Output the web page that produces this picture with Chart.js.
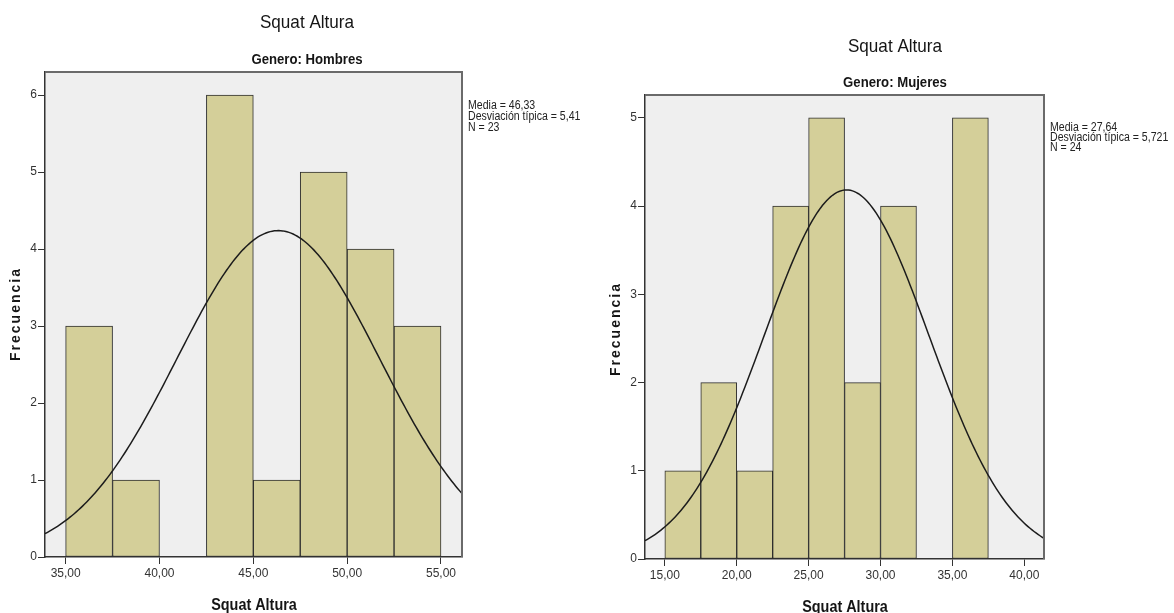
<!DOCTYPE html>
<html>
<head>
<meta charset="utf-8">
<script src="https://cdn.jsdelivr.net/npm/chart.js@4.4.1/dist/chart.umd.min.js"></script>
<style>
  html, body { margin: 0; padding: 0; background: #ffffff; width: 1174px; height: 613px; overflow: hidden; }
  canvas { position: absolute; left: 0; top: 0; }
</style>
</head>
<body>
<canvas id="hombres" width="1174" height="613"></canvas>
<canvas id="mujeres" width="1174" height="613"></canvas>
<script>
// ---- shared text ----
const chartTitle = 'Squat Altura';
const xAxisTitle = 'Squat Altura';
const yAxisTitle = 'Frecuencia';
const binWidth = 2.5;

// ---- Hombres ----
const hombresSubtitle = 'Genero: Hombres';
const hombresBinStarts = [35, 37.5, 40, 42.5, 45, 47.5, 50, 52.5];
const hombresCounts = [3, 1, 0, 6, 1, 5, 4, 3];
const hombresXTicks = [35, 40, 45, 50, 55];
const hombresYTicks = [0, 1, 2, 3, 4, 5, 6];
const hombresMean = 46.33;
const hombresSd = 5.41;
const hombresN = 23;
const hombresStatLines = ['Media = 46,33', 'Desviación típica = 5,41', 'N = 23'];

// ---- Mujeres ----
const mujeresSubtitle = 'Genero: Mujeres';
const mujeresBinStarts = [15, 17.5, 20, 22.5, 25, 27.5, 30, 32.5, 35];
const mujeresCounts = [1, 2, 1, 4, 5, 2, 4, 0, 5];
const mujeresXTicks = [15, 20, 25, 30, 35, 40];
const mujeresYTicks = [0, 1, 2, 3, 4, 5];
const mujeresMean = 27.64;
const mujeresSd = 5.721;
const mujeresN = 24;
const mujeresStatLines = ['Media = 27,64', 'Desviación típica = 5,721', 'N = 24'];

const SANS = "'Liberation Sans', Arial, sans-serif";
const BAR_FILL = '#d4cf99';
const BAR_EDGE = '#2e2e2e';
const PLOT_BG = '#efefef';
const AXIS = '#333333';

// Fitted normal curve scaled to histogram counts: N * binWidth * pdf(x)
function normalCurve(mean, sd, n, xmin, xmax) {
  const pts = [];
  const k = n * binWidth / (sd * Math.sqrt(2 * Math.PI));
  const steps = 200;
  for (let i = 0; i <= steps; i++) {
    const x = xmin + (xmax - xmin) * i / steps;
    const z = (x - mean) / sd;
    pts.push({ x: x, y: k * Math.exp(-0.5 * z * z) });
  }
  return pts;
}

const fmtComma = v => v.toFixed(2).replace('.', ',');

// Condensed text: draw with a horizontal squeeze around the anchor point
function narrowText(c, text, x, y, font, sx, align) {
  c.save();
  c.font = font;
  c.textAlign = align;
  c.textBaseline = 'alphabetic';
  c.translate(x, y);
  c.scale(sx, 1);
  c.fillText(text, 0, 0);
  c.restore();
}

// Plot background, frame and the annotation texts
function decorations(cfg) {
  return {
    id: 'decor_' + cfg.key,
    beforeDraw(chart) {
      const a = chart.chartArea, c = chart.ctx;
      c.save();
      c.fillStyle = PLOT_BG;
      c.fillRect(a.left, a.top, a.right - a.left, a.bottom - a.top);
      c.restore();
    },
    afterDraw(chart) {
      const a = chart.chartArea, c = chart.ctx;
      c.save();
      // frame top + right
      c.strokeStyle = '#6a6a6a';
      c.lineWidth = 2;
      c.beginPath();
      c.moveTo(a.left, a.top);
      c.lineTo(a.right, a.top);
      c.lineTo(a.right, a.bottom);
      c.stroke();

      c.fillStyle = '#151515';
      narrowText(c, chartTitle, cfg.titleX, cfg.titleY, '19px ' + SANS, 0.9, 'center');
      narrowText(c, cfg.subtitle, cfg.titleX, cfg.subY, 'bold 14px ' + SANS, 0.94, 'center');
      narrowText(c, xAxisTitle, cfg.xTitleX, cfg.xTitleY, 'bold 16px ' + SANS, 0.9, 'center');
      c.fillStyle = '#222';
      cfg.stats.forEach((s, i) =>
        narrowText(c, s, a.right + 6, cfg.statsY + i * cfg.statsGap, '12px ' + SANS, 0.88, 'left'));

      c.fillStyle = '#151515';
      c.translate(cfg.yTitleX, cfg.yTitleY);
      c.rotate(-Math.PI / 2);
      c.textAlign = 'center';
      c.textBaseline = 'middle';
      c.font = 'bold 14px ' + SANS;
      c.letterSpacing = '2px';
      c.fillText(yAxisTitle, 0, 0);
      c.restore();
    }
  };
}

function buildChart(canvasId, cfg) {
  const bars = cfg.binStarts.map((s, i) => ({ x: s + binWidth / 2, y: cfg.counts[i] }));
  const curve = normalCurve(cfg.mean, cfg.sd, cfg.n, cfg.xMin, cfg.xMax);
  const tickFont = { family: SANS, size: 12 };
  return new Chart(document.getElementById(canvasId), {
    data: {
      datasets: [
        {
          type: 'line',
          data: curve,
          borderColor: '#1c1c1c',
          borderWidth: 1.5,
          pointRadius: 0,
          tension: 0,
          order: 0
        },
        {
          type: 'bar',
          data: bars,
          backgroundColor: BAR_FILL,
          borderColor: BAR_EDGE,
          borderWidth: 1,
          borderSkipped: false,
          barPercentage: 1,
          categoryPercentage: 1,
          order: 1
        }
      ]
    },
    options: {
      responsive: false,
      animation: false,
      events: [],
      layout: { padding: cfg.padding },
      plugins: { legend: { display: false }, title: { display: false }, tooltip: { enabled: false } },
      scales: {
        x: {
          type: 'linear',
          min: cfg.xMin,
          max: cfg.xMax,
          offset: false,
          afterBuildTicks: s => { s.ticks = cfg.xTicks.map(v => ({ value: v })); },
          afterFit: s => { s.height = cfg.xAxisHeight; },
          grid: { display: true, offset: false, drawOnChartArea: false, drawTicks: true, tickLength: 7, color: AXIS, lineWidth: 1 },
          border: { display: true, color: AXIS, width: 1.5 },
          ticks: { font: tickFont, color: '#333', padding: 2, maxRotation: 0, autoSkip: false, callback: v => fmtComma(v) }
        },
        y: {
          type: 'linear',
          min: 0,
          max: cfg.yMax,
          afterBuildTicks: s => { s.ticks = cfg.yTicks.map(v => ({ value: v })); },
          afterFit: s => { s.width = cfg.yAxisWidth; },
          grid: { display: true, drawOnChartArea: false, drawTicks: true, tickLength: 7, color: AXIS, lineWidth: 1 },
          border: { display: true, color: AXIS, width: 1.5 },
          ticks: { font: tickFont, color: '#333', padding: 1, autoSkip: false, callback: v => String(v) }
        }
      }
    },
    plugins: [decorations(cfg)]
  });
}

buildChart('hombres', {
  key: 'h',
  binStarts: hombresBinStarts, counts: hombresCounts,
  xTicks: hombresXTicks, yTicks: hombresYTicks,
  mean: hombresMean, sd: hombresSd, n: hombresN,
  xMin: 33.9, xMax: 56.12, yMax: 6.3,
  padding: { left: 0, top: 72, right: 712, bottom: 0 },
  yAxisWidth: 45, xAxisHeight: 56,
  subtitle: hombresSubtitle, stats: hombresStatLines,
  titleX: 307, titleY: 28, subY: 64,
  xTitleX: 254, xTitleY: 610,
  yTitleX: 16, yTitleY: 314,
  statsY: 109, statsGap: 11
});

buildChart('mujeres', {
  key: 'm',
  binStarts: mujeresBinStarts, counts: mujeresCounts,
  xTicks: mujeresXTicks, yTicks: mujeresYTicks,
  mean: mujeresMean, sd: mujeresSd, n: mujeresN,
  xMin: 13.62, xMax: 41.37, yMax: 5.26,
  padding: { left: 600, top: 95, right: 130, bottom: 0 },
  yAxisWidth: 45, xAxisHeight: 54,
  subtitle: mujeresSubtitle, stats: mujeresStatLines,
  titleX: 895, titleY: 52, subY: 87,
  xTitleX: 845, xTitleY: 612,
  yTitleX: 616, yTitleY: 329,
  statsY: 131, statsGap: 10
});
</script>
</body>
</html>
